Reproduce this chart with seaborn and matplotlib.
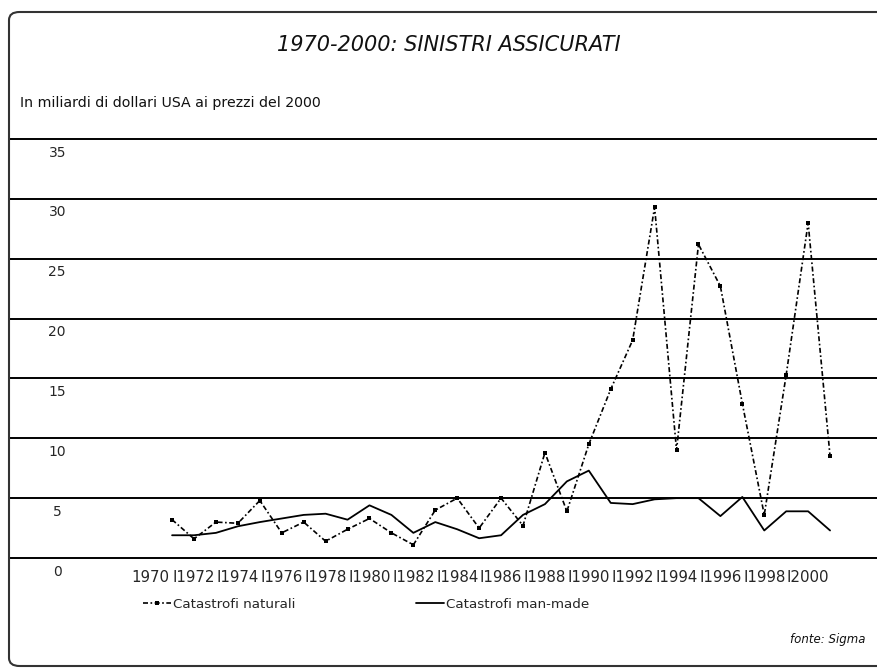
import matplotlib
matplotlib.use("Agg")
import matplotlib.pyplot as plt
import seaborn as sns
import pandas as pd
from matplotlib.patches import FancyBboxPatch
from matplotlib.transforms import ScaledTranslation

years = list(range(1970, 2001))
naturali = [3.2, 1.6, 3.0, 2.9, 4.8, 2.1, 3.0, 1.4, 2.4, 3.3,
            2.1, 1.1, 4.0, 5.0, 2.5, 5.0, 2.7, 8.8, 3.9, 9.5,
            14.1, 18.2, 29.3, 9.0, 26.2, 22.7, 12.9, 3.6, 15.3, 28.0,
            8.5]
man_made = [1.9, 1.9, 2.1, 2.65, 3.0, 3.3, 3.6, 3.7, 3.2, 4.4,
            3.6, 2.1, 3.0, 2.4, 1.65, 1.9, 3.6, 4.5, 6.4, 7.3,
            4.6, 4.5, 4.9, 5.0, 5.0, 3.5, 5.1, 2.3, 3.9, 3.9,
            2.3]
y_ticks = [0, 5, 10, 15, 20, 25, 30, 35]
label_years = list(range(1970, 2001, 2))
x_labels = ["1970"] + ["I" + str(y) for y in label_years[1:]]

title = "1970-2000: SINISTRI ASSICURATI"
subtitle = "In miliardi di dollari USA ai prezzi del 2000"
source = "fonte: Sigma"
name_nat = "Catastrofi naturali"
name_man = "Catastrofi man-made"

sns.set_style("white")
plt.rcParams['font.family'] = ['DejaVu Sans']

df = pd.DataFrame({"anno": years, name_nat: naturali, name_man: man_made})

fig = plt.figure(figsize=(8.77, 6.70), dpi=100)
W, H = 877, 670
ax = fig.add_axes([10 / W, 1 - 558 / H, 867 / W, (558 - 139) / H])

sns.lineplot(data=df, x="anno", y=name_nat, ax=ax, color="black",
             linewidth=1.2, linestyle=(0, (3, 1.5, 1, 1.5)),
             marker="s", markersize=2.5, markeredgewidth=0,
             label=name_nat, legend=False)
sns.lineplot(data=df, x="anno", y=name_man, ax=ax, color="black",
             linewidth=1.3, label=name_man, legend=False)

ax.set_xlim(1962.61, 2002.14)
ax.set_ylim(0, 35)
ax.set_xlabel("")
ax.set_ylabel("")
for s in ax.spines.values():
    s.set_visible(False)

ax.set_yticks(y_ticks)
ax.set_yticklabels([str(v) for v in y_ticks])
ax.yaxis.grid(True, color="black", linewidth=1.4)
ax.set_axisbelow(True)
ax.tick_params(axis="y", length=0, pad=-34, labelsize=10)
for lab in ax.get_yticklabels():
    lab.set_horizontalalignment("center")
for gl in ax.get_ygridlines():
    gl.set_clip_on(False)

ax.set_xticks([y - 1 for y in label_years])
ax.set_xticklabels(x_labels)
ax.tick_params(axis="x", length=0, pad=9, labelsize=10.8)

offset = ScaledTranslation(0, -12 / 100, fig.dpi_scale_trans)
for lab in ax.get_yticklabels():
    lab.set_transform(lab.get_transform() + offset)

fig.text(449 / W, 1 - 45 / H, title, ha="center", va="center",
         fontsize=15, style="italic", color="#111111")
fig.text(20 / W, 1 - 103 / H, subtitle, ha="left", va="center",
         fontsize=10.2, color="#111111")
fig.text(866 / W, 1 - 640 / H, source, ha="right", va="center",
         fontsize=8.5, style="italic", color="#111111")

handles, labels = ax.get_legend_handles_labels()
fig.legend(handles, labels, loc="center left",
           bbox_to_anchor=(143 / W, 1 - 604 / H), ncol=2, frameon=False,
           fontsize=9.7, handlelength=2.1, handletextpad=0.15,
           columnspacing=8.9, borderpad=0, borderaxespad=0)

border = FancyBboxPatch((9 / W, 4 / H), (W + 10) / W, (H - 12 - 4) / H,
                        boxstyle="round,pad=0,rounding_size=0.012",
                        transform=fig.transFigure, fill=False,
                        edgecolor="#333333", linewidth=1.5)
fig.patches.append(border)

fig.savefig("out.png", dpi=100)
